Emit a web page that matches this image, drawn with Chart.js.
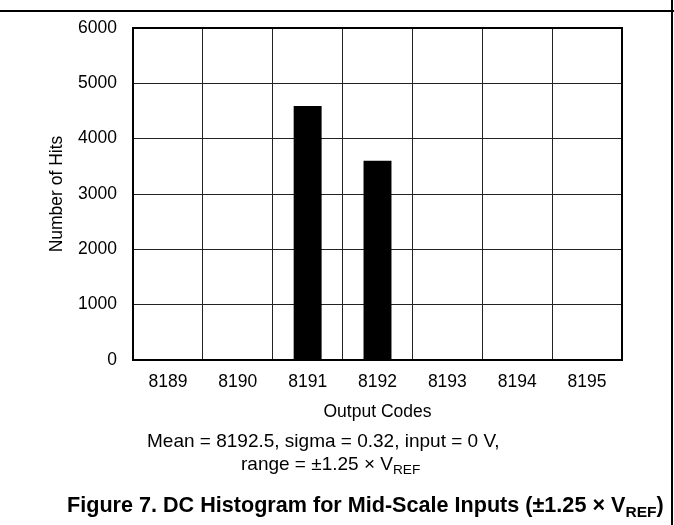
<!DOCTYPE html>
<html><head><meta charset="utf-8">
<script src="https://cdn.jsdelivr.net/npm/chart.js@4/dist/chart.umd.min.js"></script>
<style>
html,body{margin:0;padding:0;background:#fff;}
#wrap{position:relative;width:674px;height:525px;overflow:hidden;font-family:"Liberation Sans",Arial,sans-serif;color:#000;}
canvas{position:absolute;left:0;top:0;}
.t{position:absolute;white-space:nowrap;line-height:1;}
.s{font-size:72%;position:relative;top:0.32em;}
#hl{position:absolute;left:0;top:10px;width:674px;height:2px;background:#000;}
#vl{position:absolute;left:671px;top:0;width:2px;height:525px;background:#000;}
</style></head><body>
<div id="wrap">
<canvas id="c" width="674" height="525"></canvas>
<div id="hl"></div><div id="vl"></div>
<div class="t" style="left:147px;top:431px;font-size:19px;">Mean = 8192.5, sigma = 0.32, input = 0 V,</div>
<div class="t" style="left:241px;top:454px;font-size:19px;">range = ±1.25 × V<span class="s">REF</span></div>
<div class="t" style="left:67px;top:494px;font-size:21.6px;font-weight:bold;">Figure 7. DC Histogram for Mid-Scale Inputs (±1.25 × V<span class="s">REF</span>)</div>
</div>
<script>
const categories = ['8189', '8190', '8191', '8192', '8193', '8194', '8195'];
const hits = [0, 0, 4590, 3600, 0, 0, 0];
const yTicks = [0, 1000, 2000, 3000, 4000, 5000, 6000];
const xTitle = 'Output Codes';
const yTitle = 'Number of Hits';

const F = '"Liberation Sans", Arial, sans-serif';
const frame = {
  id: 'frame',
  afterDatasetsDraw(chart) {
    const a = chart.chartArea, c = chart.ctx;
    c.save();
    c.strokeStyle = '#000';
    c.lineWidth = 2;
    c.strokeRect(a.left, a.top, a.right - a.left, a.bottom - a.top);
    c.restore();
  }
};
new Chart(document.getElementById('c'), {
  type: 'bar',
  data: {
    labels: categories,
    datasets: [{ data: hits, backgroundColor: '#000', borderWidth: 0, barPercentage: 0.4, categoryPercentage: 1 }]
  },
  options: {
    responsive: false, animation: false, devicePixelRatio: 1,
    layout: { padding: { left: 0, top: 28, right: 52, bottom: 95 } },
    plugins: { legend: { display: false }, tooltip: { enabled: false } },
    scales: {
      x: {
        grid: { color: '#222', lineWidth: 1, drawTicks: false, offset: true },
        border: { display: false },
        ticks: { color: '#000', font: { family: F, size: 17.5 }, padding: 12, maxRotation: 0 },
        title: { display: true, text: xTitle, color: '#000', font: { family: F, size: 17.5 }, padding: { top: 0, bottom: 7 } },
        afterFit(s) { s.height = 70; }
      },
      y: {
        min: yTicks[0], max: yTicks[yTicks.length - 1],
        afterBuildTicks(s) { s.ticks = yTicks.map(v => ({ value: v })); },
        ticks: { color: '#000', font: { family: F, size: 17.5 }, padding: 16, callback: v => String(v) },
        grid: { color: '#222', lineWidth: 1, drawTicks: false },
        border: { display: false },
        title: { display: true, text: yTitle, color: '#000', font: { family: F, size: 17.5 }, padding: { top: 47, bottom: 0 } },
        afterFit(s) { s.width = 133; }
      }
    }
  },
  plugins: [frame]
});
</script>
</body></html>
